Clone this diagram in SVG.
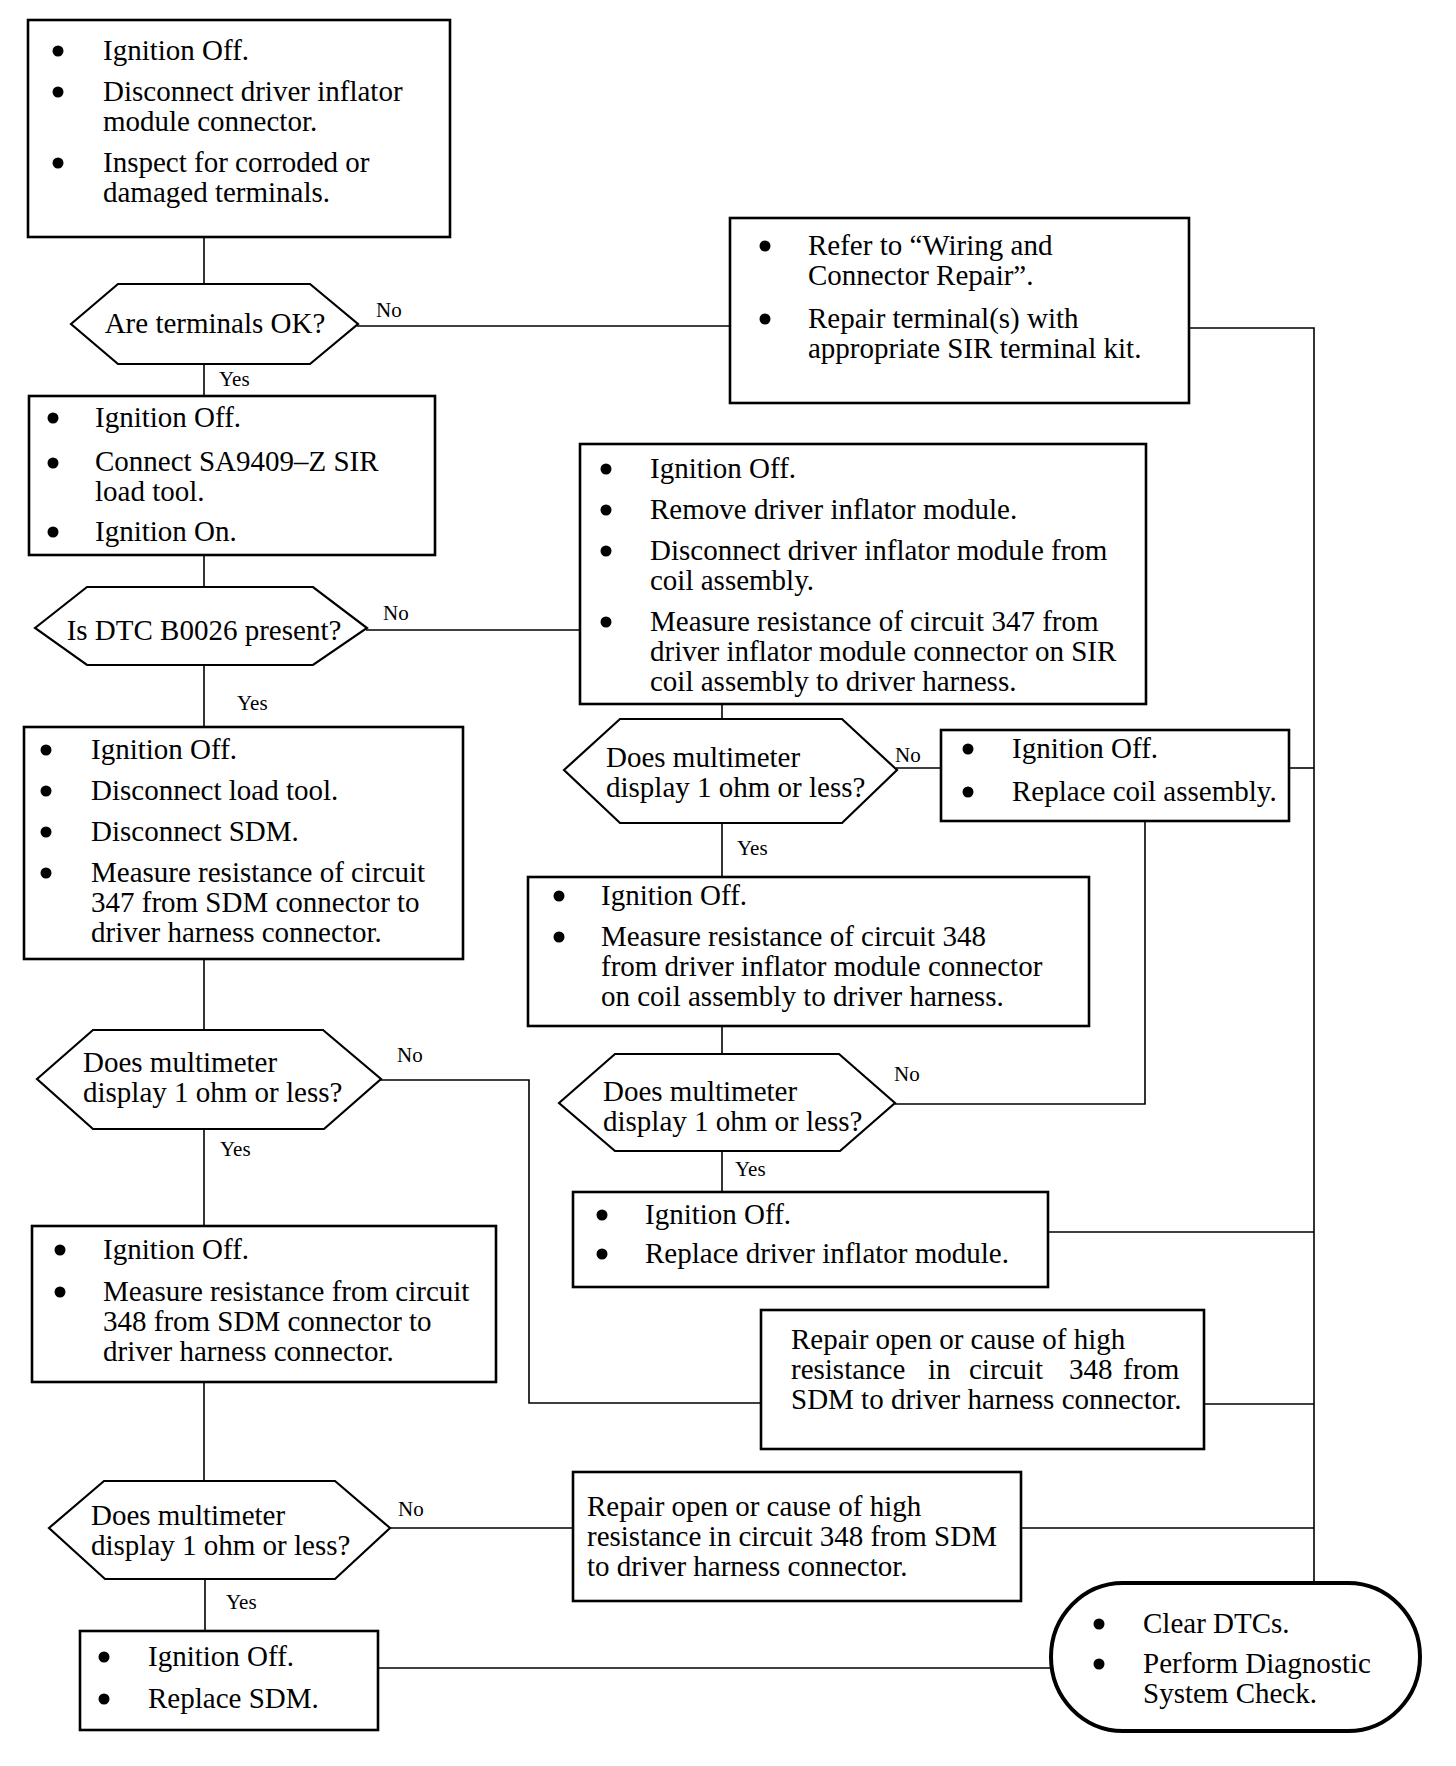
<svg xmlns="http://www.w3.org/2000/svg" width="1456" height="1766" viewBox="0 0 1456 1766">
<style>
.box{fill:#fff;stroke:#000;stroke-width:2.6}
.dec{fill:#fff;stroke:#000;stroke-width:2.2}
.oval{fill:#fff;stroke:#000;stroke-width:4}
.t{font-family:"Liberation Serif","Times New Roman",serif;font-size:29px;fill:#000}
.lbl{font-family:"Liberation Serif","Times New Roman",serif;font-size:21px;fill:#000}
.con{fill:none;stroke:#000;stroke-width:1.6}
.b{fill:#000}
</style>
<rect width="1456" height="1766" fill="#fff"/>
<g id="connectors">
<path class="con" d="M204,237V284"/>
<path class="con" d="M357,326H730"/>
<path class="con" d="M204,364V396"/>
<path class="con" d="M1189,328H1314V1583"/>
<path class="con" d="M204,555V587"/>
<path class="con" d="M366,630H580"/>
<path class="con" d="M204,665V727"/>
<path class="con" d="M722,704V719"/>
<path class="con" d="M896,768H941"/>
<path class="con" d="M1289,768H1314"/>
<path class="con" d="M722,823V877"/>
<path class="con" d="M1145,821V1104H895"/>
<path class="con" d="M722,1026V1054"/>
<path class="con" d="M722,1151V1192"/>
<path class="con" d="M1048,1232H1314"/>
<path class="con" d="M204,959V1030"/>
<path class="con" d="M380,1080H529V1403H761"/>
<path class="con" d="M1204,1404H1314"/>
<path class="con" d="M204,1129V1226"/>
<path class="con" d="M204,1382V1481"/>
<path class="con" d="M389,1528H573"/>
<path class="con" d="M1021,1528H1314"/>
<path class="con" d="M205,1579V1631"/>
<path class="con" d="M378,1668H1051"/>
</g>
<g id="labels">
<text class="lbl" x="376" y="317">No</text>
<text class="lbl" x="219" y="386">Yes</text>
<text class="lbl" x="383" y="620">No</text>
<text class="lbl" x="237" y="710">Yes</text>
<text class="lbl" x="895" y="762">No</text>
<text class="lbl" x="737" y="855">Yes</text>
<text class="lbl" x="894" y="1081">No</text>
<text class="lbl" x="735" y="1176">Yes</text>
<text class="lbl" x="397" y="1062">No</text>
<text class="lbl" x="220" y="1156">Yes</text>
<text class="lbl" x="398" y="1516">No</text>
<text class="lbl" x="226" y="1609">Yes</text>
</g>
<g id="boxA">
<rect class="box" x="28" y="20" width="422" height="217"/>
<circle class="b" cx="58" cy="51" r="5.5"/><circle class="b" cx="58" cy="92" r="5.5"/><circle class="b" cx="58" cy="163" r="5.5"/>
<text class="t"><tspan x="103" y="60">Ignition Off.</tspan><tspan x="103" y="101">Disconnect driver inflator</tspan><tspan x="103" y="131">module connector.</tspan><tspan x="103" y="172">Inspect for corroded or</tspan><tspan x="103" y="202">damaged terminals.</tspan></text>
</g>
<g id="decision1">
<polygon class="dec" points="71,324 118,284 310,284 358,324 310,364 118,364"/>
<text class="t" x="215" y="333" text-anchor="middle">Are terminals OK?</text>
</g>
<g id="boxB">
<rect class="box" x="730" y="218" width="459" height="185"/>
<circle class="b" cx="765" cy="246" r="5.5"/><circle class="b" cx="765" cy="319" r="5.5"/>
<text class="t"><tspan x="808" y="255">Refer to “Wiring and</tspan><tspan x="808" y="285">Connector Repair”.</tspan><tspan x="808" y="328">Repair terminal(s) with</tspan><tspan x="808" y="358">appropriate SIR terminal kit.</tspan></text>
</g>
<g id="boxC">
<rect class="box" x="29" y="396" width="406" height="159"/>
<circle class="b" cx="53" cy="418" r="5.5"/><circle class="b" cx="53" cy="463" r="5.5"/><circle class="b" cx="53" cy="532" r="5.5"/>
<text class="t"><tspan x="95" y="427">Ignition Off.</tspan><tspan x="95" y="471">Connect SA9409–Z SIR</tspan><tspan x="95" y="501">load tool.</tspan><tspan x="95" y="541">Ignition On.</tspan></text>
</g>
<g id="decision2">
<polygon class="dec" points="35,628 87,587 313,587 367,628 313,665 87,665"/>
<text class="t" x="204" y="640" text-anchor="middle">Is DTC B0026 present?</text>
</g>
<g id="boxD">
<rect class="box" x="580" y="444" width="566" height="260"/>
<circle class="b" cx="606" cy="469" r="5.5"/><circle class="b" cx="606" cy="510" r="5.5"/><circle class="b" cx="606" cy="551" r="5.5"/><circle class="b" cx="606" cy="622" r="5.5"/>
<text class="t"><tspan x="650" y="478">Ignition Off.</tspan><tspan x="650" y="519">Remove driver inflator module.</tspan><tspan x="650" y="560">Disconnect driver inflator module from</tspan><tspan x="650" y="590">coil assembly.</tspan><tspan x="650" y="631">Measure resistance of circuit 347 from</tspan><tspan x="650" y="661">driver inflator module connector on SIR</tspan><tspan x="650" y="691">coil assembly to driver harness.</tspan></text>
</g>
<g id="boxE">
<rect class="box" x="24" y="727" width="439" height="232"/>
<circle class="b" cx="46" cy="750" r="5.5"/><circle class="b" cx="46" cy="791" r="5.5"/><circle class="b" cx="46" cy="832" r="5.5"/><circle class="b" cx="46" cy="873" r="5.5"/>
<text class="t"><tspan x="91" y="759">Ignition Off.</tspan><tspan x="91" y="800">Disconnect load tool.</tspan><tspan x="91" y="841">Disconnect SDM.</tspan><tspan x="91" y="882">Measure resistance of circuit</tspan><tspan x="91" y="912">347 from SDM connector to</tspan><tspan x="91" y="942">driver harness connector.</tspan></text>
</g>
<g id="decision3">
<polygon class="dec" points="564,770 620,719 842,719 897,770 842,823 620,823"/>
<text class="t"><tspan x="606" y="767">Does multimeter</tspan><tspan x="606" y="797">display 1 ohm or less?</tspan></text>
</g>
<g id="boxF">
<rect class="box" x="941" y="730" width="348" height="91"/>
<circle class="b" cx="968" cy="749" r="5.5"/><circle class="b" cx="968" cy="792" r="5.5"/>
<text class="t"><tspan x="1012" y="758">Ignition Off.</tspan><tspan x="1012" y="801">Replace coil assembly.</tspan></text>
</g>
<g id="boxG">
<rect class="box" x="528" y="877" width="561" height="149"/>
<circle class="b" cx="559" cy="896" r="5.5"/><circle class="b" cx="559" cy="937" r="5.5"/>
<text class="t"><tspan x="601" y="905">Ignition Off.</tspan><tspan x="601" y="946">Measure resistance of circuit 348</tspan><tspan x="601" y="976">from driver inflator module connector</tspan><tspan x="601" y="1006">on coil assembly to driver harness.</tspan></text>
</g>
<g id="decision4">
<polygon class="dec" points="559,1103 615,1054 839,1054 895,1103 840,1151 615,1151"/>
<text class="t"><tspan x="603" y="1101">Does multimeter</tspan><tspan x="603" y="1131">display 1 ohm or less?</tspan></text>
</g>
<g id="boxH">
<rect class="box" x="573" y="1192" width="475" height="95"/>
<circle class="b" cx="602" cy="1215" r="5.5"/><circle class="b" cx="602" cy="1254" r="5.5"/>
<text class="t"><tspan x="645" y="1224">Ignition Off.</tspan><tspan x="645" y="1263">Replace driver inflator module.</tspan></text>
</g>
<g id="decision5">
<polygon class="dec" points="37,1079 93,1030 323,1030 381,1079 324,1129 93,1129"/>
<text class="t"><tspan x="83" y="1072">Does multimeter</tspan><tspan x="83" y="1102">display 1 ohm or less?</tspan></text>
</g>
<g id="boxI">
<rect class="box" x="761" y="1310" width="443" height="139"/>
<text class="t"><tspan x="791" y="1349">Repair open or cause of high</tspan><tspan x="791" y="1379">resistance</tspan><tspan x="928" y="1379">in</tspan><tspan x="969" y="1379">circuit</tspan><tspan x="1069" y="1379">348</tspan><tspan x="1123" y="1379">from</tspan><tspan x="791" y="1409">SDM to driver harness connector.</tspan></text>
</g>
<g id="boxJ">
<rect class="box" x="32" y="1226" width="464" height="156"/>
<circle class="b" cx="60" cy="1250" r="5.5"/><circle class="b" cx="60" cy="1292" r="5.5"/>
<text class="t"><tspan x="103" y="1259">Ignition Off.</tspan><tspan x="103" y="1301">Measure resistance from circuit</tspan><tspan x="103" y="1331">348 from SDM connector to</tspan><tspan x="103" y="1361">driver harness connector.</tspan></text>
</g>
<g id="decision6">
<polygon class="dec" points="49,1528 104,1481 335,1481 390,1528 335,1579 105,1579"/>
<text class="t"><tspan x="91" y="1525">Does multimeter</tspan><tspan x="91" y="1555">display 1 ohm or less?</tspan></text>
</g>
<g id="boxK">
<rect class="box" x="573" y="1472" width="448" height="129"/>
<text class="t"><tspan x="587" y="1516">Repair open or cause of high</tspan><tspan x="587" y="1546">resistance in circuit 348 from SDM</tspan><tspan x="587" y="1576">to driver harness connector.</tspan></text>
</g>
<g id="boxL">
<rect class="box" x="80" y="1631" width="298" height="99"/>
<circle class="b" cx="104" cy="1657" r="5.5"/><circle class="b" cx="104" cy="1699" r="5.5"/>
<text class="t"><tspan x="148" y="1666">Ignition Off.</tspan><tspan x="148" y="1708">Replace SDM.</tspan></text>
</g>
<g id="endOval">
<rect class="oval" x="1051" y="1583" width="369" height="148" rx="72" ry="74"/>
<circle class="b" cx="1099" cy="1624" r="5.5"/><circle class="b" cx="1099" cy="1664" r="5.5"/>
<text class="t"><tspan x="1143" y="1633">Clear DTCs.</tspan><tspan x="1143" y="1673">Perform Diagnostic</tspan><tspan x="1143" y="1703">System Check.</tspan></text>
</g>
</svg>
